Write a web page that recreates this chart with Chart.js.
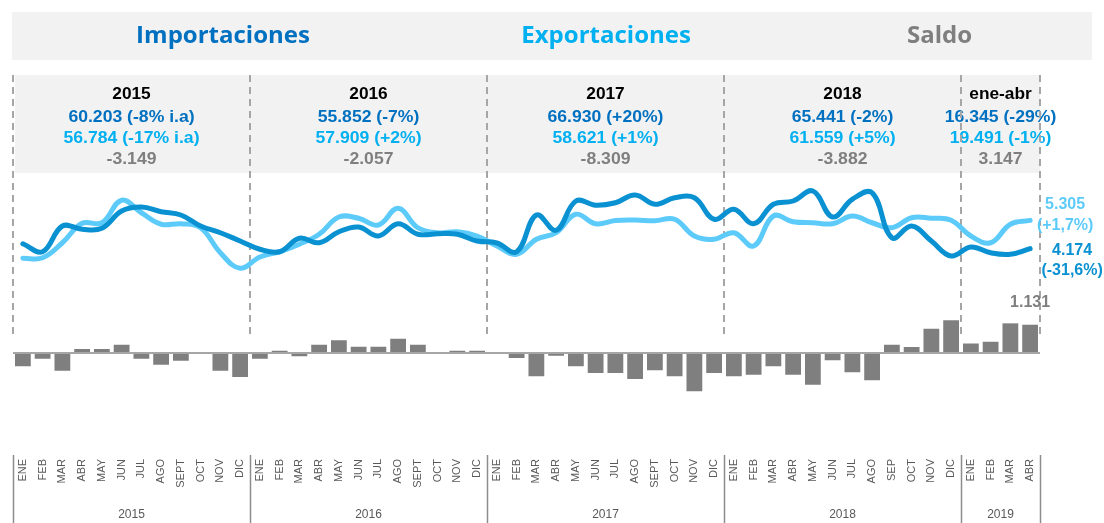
<!DOCTYPE html>
<html>
<head>
<meta charset="utf-8">
<script src="https://cdn.jsdelivr.net/npm/chart.js@4.4.1/dist/chart.umd.min.js"></script>
<style>
  html, body { margin: 0; padding: 0; background: #fff; }
  #wrap { width: 1104px; height: 523px; }
</style>
</head>
<body>
<div id="wrap"><canvas id="chart" width="1104" height="523"></canvas></div>
<script>
// monthly values, millones de USD (ene 2015 - abr 2019)
var months = [
  'ENE','FEB','MAR','ABR','MAY','JUN','JUL','AGO','SEPT','OCT','NOV','DIC',
  'ENE','FEB','MAR','ABR','MAY','JUN','JUL','AGO','SEPT','OCT','NOV','DIC',
  'ENE','FEB','MAR','ABR','MAY','JUN','JUL','AGO','SEPT','OCT','NOV','DIC',
  'ENE','FEB','MAR','ABR','MAY','JUN','JUL','AGO','SEP','OCT','NOV','DIC',
  'ENE','FEB','MAR','ABR'
];
var importaciones = [
  4370, 4050, 5080, 4950, 4990, 5680, 5840, 5650, 5520, 5080, 4810, 4480,
  4150, 4050, 4590, 4410, 4850, 5040, 4680, 5170, 4750, 4770, 4750, 4480,
  4400, 4050, 5520, 4910, 6080, 5910, 6010, 6320, 5950, 6210, 6210, 5350,
  5750, 5170, 5950, 6080, 6480, 5440, 6150, 6410, 4610, 5080, 4480, 3880,
  4240, 4010, 3950, 4174
];
var exportaciones = [
  3790, 3810, 4410, 5190, 5210, 6110, 5610, 5150, 5170, 5010, 4010, 3390,
  3840, 4050, 4350, 4750, 5440, 5390, 5120, 5790, 5010, 4810, 4850, 4680,
  4280, 3950, 4550, 4810, 5550, 5170, 5300, 5320, 5290, 5350, 4680, 4550,
  4810, 4280, 5480, 5250, 5210, 5170, 5480, 5210, 5010, 5410, 5390, 5310,
  4680, 4410, 5150, 5305
];
var saldo = [
  -530, -230, -710, 160, 160, 330, -230, -470, -310, -15, -710, -960,
  -230, 90, -130, 330, 510, 250, 250, 570, 330, 15, 90, 90,
  -30, -200, -930, -110, -530, -800, -800, -1040, -690, -930, -1530, -800,
  -930, -870, -530, -870, -1270, -290, -770, -1090, 330, 240, 970, 1310,
  380, 450, 1186, 1131
];
var yearBreaks = [0, 12, 24, 36, 48, 52];
var yearAxis = ['2015', '2016', '2017', '2018', '2019'];
var boxTitles = ['2015', '2016', '2017', '2018', 'ene-abr'];
var boxImp = ['60.203 (-8% i.a)', '55.852 (-7%)', '66.930 (+20%)', '65.441 (-2%)', '16.345 (-29%)'];
var boxExp = ['56.784 (-17% i.a)', '57.909 (+2%)', '58.621 (+1%)', '61.559 (+5%)', '19.491 (-1%)'];
var boxSaldo = ['-3.149', '-2.057', '-8.309', '-3.882', '3.147'];
var headers = ['Importaciones', 'Exportaciones', 'Saldo'];
var endImp = ['4.174', '(-31,6%)'];
var endExp = ['5.305', '(+1,7%)'];
var endSaldo = '1.131';

var FONT = "Arial, 'Liberation Sans', sans-serif";
var C_IMP = '#0070C0', C_EXP = '#00B0F0', C_GRAY = '#7F7F7F';
var C_IMP_LINE = '#0A91D1', C_EXP_LINE = '#5DCBFA';
var headerX = [0.202, 0.549, 0.851];
var headerColors = [C_IMP, C_EXP, C_GRAY];

function edge(chart, i) {
  var x = chart.scales.x;
  return x.left + i * (x.right - x.left) / months.length;
}

function wideText(ctx, txt, x, y, sx) {
  ctx.save();
  ctx.translate(x, y);
  ctx.scale(sx, 1);
  ctx.fillText(txt, 0, 0);
  ctx.restore();
}

var decor = {
  id: 'decor',
  beforeDraw: function (chart) {
    var ctx = chart.ctx, a = chart.chartArea;
    ctx.save();
    // header band
    ctx.fillStyle = '#F2F2F2';
    ctx.fillRect(12, 12, chart.width - 24, 48);
    ctx.textAlign = 'center';
    ctx.textBaseline = 'middle';
    ctx.font = "bold 24px 'Open Sans'";
    headers.forEach(function (h, k) {
      ctx.fillStyle = headerColors[k];
      ctx.fillText(h, chart.width * headerX[k], 36);
    });
    // yearly summary band
    var l = edge(chart, 0), r = edge(chart, months.length);
    ctx.fillStyle = '#F2F2F2';
    ctx.fillRect(l + 2, a.top, r - l - 2, 98);
    ctx.font = 'bold 16px ' + FONT;
    for (var k = 0; k < boxTitles.length; k++) {
      var cx = (edge(chart, yearBreaks[k]) + edge(chart, yearBreaks[k + 1])) / 2;
      ctx.fillStyle = '#000';
      wideText(ctx, boxTitles[k], cx, a.top + 20, 1.08);
      ctx.fillStyle = C_IMP;
      wideText(ctx, boxImp[k], cx, a.top + 43, 1.1);
      ctx.fillStyle = C_EXP;
      wideText(ctx, boxExp[k], cx, a.top + 64, 1.1);
      ctx.fillStyle = C_GRAY;
      wideText(ctx, boxSaldo[k], cx, a.top + 85, 1.1);
    }
    ctx.restore();
  },
  beforeDatasetsDraw: function (chart) {
    var ctx = chart.ctx, a = chart.chartArea;
    var y0 = chart.scales.y.getPixelForValue(0);
    ctx.save();
    ctx.strokeStyle = '#A6A6A6';
    ctx.lineWidth = 2;
    ctx.setLineDash([7, 5]);
    yearBreaks.forEach(function (b) {
      var x = Math.round(edge(chart, b));
      ctx.beginPath();
      ctx.moveTo(x, a.top);
      ctx.lineTo(x, y0 - 14);
      ctx.stroke();
    });
    ctx.restore();
  },
  afterDatasetsDraw: function (chart) {
    var ctx = chart.ctx;
    var y0 = chart.scales.y.getPixelForValue(0);
    ctx.save();
    ctx.strokeStyle = '#A6A6A6';
    ctx.lineWidth = 2;
    ctx.beginPath();
    ctx.moveTo(edge(chart, 0), y0);
    ctx.lineTo(edge(chart, months.length), y0);
    ctx.stroke();
    ctx.restore();
  },
  afterDraw: function (chart) {
    var ctx = chart.ctx, a = chart.chartArea;
    ctx.save();
    // year separators + labels under the month ticks
    ctx.strokeStyle = '#8C8C8C';
    ctx.lineWidth = 1.5;
    yearBreaks.forEach(function (b) {
      var x = Math.round(edge(chart, b)) + 0.5;
      ctx.beginPath();
      ctx.moveTo(x, a.bottom);
      ctx.lineTo(x, chart.height);
      ctx.stroke();
    });
    ctx.fillStyle = '#595959';
    ctx.font = '12px ' + FONT;
    ctx.textAlign = 'center';
    ctx.textBaseline = 'middle';
    for (var k = 0; k < yearAxis.length; k++) {
      var cx = (edge(chart, yearBreaks[k]) + edge(chart, yearBreaks[k + 1])) / 2;
      ctx.fillText(yearAxis[k], cx, 515);
    }
    // labels at the end of the series
    var n = months.length - 1;
    var pImp = chart.getDatasetMeta(0).data[n];
    var pExp = chart.getDatasetMeta(1).data[n];
    var bar = chart.getDatasetMeta(2).data[n];
    ctx.font = 'bold 16px ' + FONT;
    ctx.fillStyle = C_EXP_LINE;
    ctx.fillText(endExp[0], pExp.x + 35, pExp.y - 16);
    ctx.fillText(endExp[1], pExp.x + 35, pExp.y + 5);
    ctx.fillStyle = C_IMP_LINE;
    ctx.fillText(endImp[0], pImp.x + 42, pImp.y + 2);
    ctx.fillText(endImp[1], pImp.x + 42, pImp.y + 22);
    ctx.fillStyle = C_GRAY;
    ctx.fillText(endSaldo, bar.x, bar.y - 22);
    ctx.restore();
  }
};

new Chart(document.getElementById('chart').getContext('2d'), {
  type: 'bar',
  data: {
    labels: months,
    datasets: [
      {
        type: 'line', label: 'Importaciones', data: importaciones,
        borderColor: C_IMP_LINE, borderWidth: 5, tension: 0.4,
        pointRadius: 0, borderCapStyle: 'round', borderJoinStyle: 'round', order: 0
      },
      {
        type: 'line', label: 'Exportaciones', data: exportaciones,
        borderColor: C_EXP_LINE, borderWidth: 5, tension: 0.4,
        pointRadius: 0, borderCapStyle: 'round', borderJoinStyle: 'round', order: 1
      },
      {
        type: 'bar', label: 'Saldo', data: saldo,
        backgroundColor: C_GRAY, categoryPercentage: 1, barPercentage: 0.8, order: 2
      }
    ]
  },
  options: {
    responsive: false,
    animation: false,
    layout: { padding: { left: 13, right: 64, top: 75, bottom: 0 } },
    plugins: { legend: { display: false }, tooltip: { enabled: false } },
    scales: {
      x: {
        grid: { display: false, drawTicks: false },
        border: { display: false },
        ticks: {
          autoSkip: false, minRotation: 90, maxRotation: 90, padding: 4,
          color: '#595959', font: { family: FONT, size: 11 }
        },
        afterFit: function (s) { s.height = 68; }
      },
      y: { display: false, min: -4080, max: 11120 }
    }
  },
  plugins: [decor]
});
</script>
</body>
</html>
